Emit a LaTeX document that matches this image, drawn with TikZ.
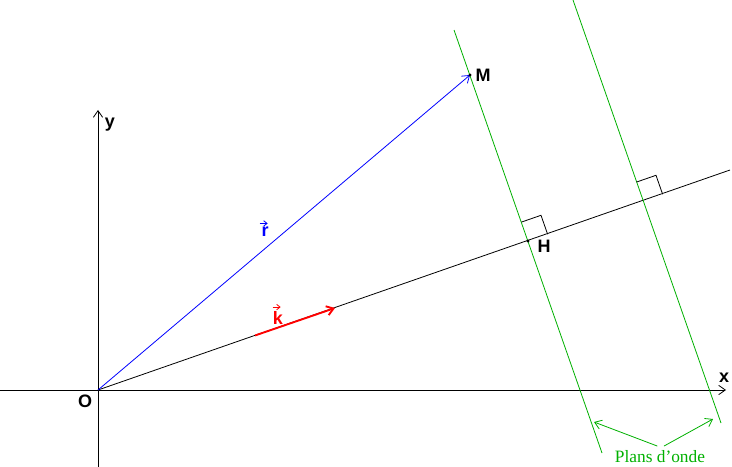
\documentclass[tikz,border=0pt]{standalone}
\usepackage{fontspec}
\setmainfont{Liberation Serif}
\setsansfont{Liberation Sans}
\usetikzlibrary{arrows.meta}
\definecolor{plangreen}{RGB}{0,176,0}
\tikzset{
  lab/.style={font=\fontsize{13.5}{15}\selectfont\sffamily\bfseries},
  plan/.style={plangreen,line width=0.6pt},
  vecarrow/.style={line width=0.6pt,-{Straight Barb[length=2.5pt,width=4pt]}},
}
\begin{document}
\begin{tikzpicture}[x=0.75pt,y=-0.75pt,line width=0.6pt,>={Straight Barb[length=5pt,width=7pt]}]
  \useasboundingbox (0,0) rectangle (732,467);
  % points
  \coordinate (O) at (98,390);
  \coordinate (M) at (470,75);
  \coordinate (H) at (528,241);
  \coordinate (K) at (643,201);
  \coordinate (xend) at (726,390);
  \coordinate (yend) at (98,110);
  \coordinate (kend) at (730,170);
  % axes
  \draw [->] (0,390) -- (xend);
  \draw [->] (98,467) -- (yend);
  \node [lab] (labx) at (724,378) {x};
  \node [lab] (laby) at (110,125) {y};
  \node [lab] (labO) at (85,401) {O};
  % direction of k
  \draw (O) -- (kend);
  \draw [red,line width=1.4pt,->] (255,335.5) -- (335,308);
  \node [lab,red,inner sep=1pt] (labk) at (278,318) {k};
  \draw [red,vecarrow] ([xshift=-4pt,yshift=2pt]labk.north) -- ++(8,0);
  % vector r
  \draw [blue,->] (O) -- (M);
  \node [lab,blue,inner sep=1pt] (labr) at (265,232) {r};
  \draw [blue,vecarrow] ([xshift=-4pt,yshift=1.5pt]labr.north) -- ++(8,0);
  % wave planes
  \draw [plan] (454,30) -- (602,453);
  \draw [plan] (573,0) -- (721,423);
  \draw (H) ++(-6.6,-18.9) -- ++(19.6,-6.8) -- ++(6.6,18.9);
  \draw (K) ++(-6.6,-18.9) -- ++(19.6,-6.8) -- ++(6.6,18.9);
  \fill (M) circle (1.6);
  \fill (H) circle (1.6);
  \node [lab] (labM) at (483,75) {M};
  \node [lab] (labH) at (544,246) {H};
  % label
  \node [plangreen,font=\fontsize{13}{15}\selectfont] (plans) at (660,457) {Plans d'onde};
  \draw [plan,->] ([xshift=-2pt]plans.north) -- (594,422);
  \draw [plan,->] ([xshift=3pt]plans.north) -- (713,419);
\end{tikzpicture}
\end{document}
